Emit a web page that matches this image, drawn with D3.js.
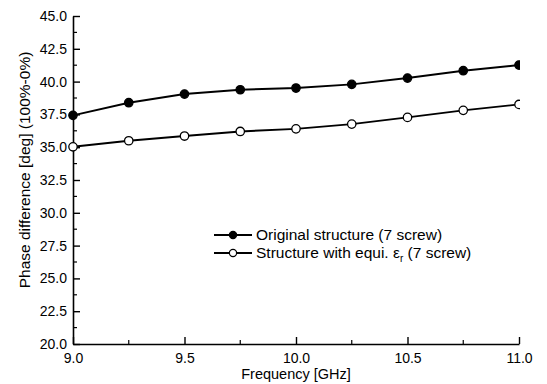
<!DOCTYPE html>
<html>
<head>
<meta charset="utf-8">
<script src="https://cdn.jsdelivr.net/npm/d3@7"></script>
<style>
  html, body { margin: 0; padding: 0; background: #fff; }
  svg { display: block; font-family: "Liberation Sans", Arial, sans-serif; }
</style>
</head>
<body>
<svg id="chart" width="547" height="384"></svg>
<script>
// Frequency sweep (GHz)
const frequency = [9.0, 9.25, 9.5, 9.75, 10.0, 10.25, 10.5, 10.75, 11.0];
// Phase difference (deg), 100% vs 0%
const originalStructure = [37.43, 38.39, 39.05, 39.38, 39.51, 39.79, 40.27, 40.83, 41.26];
const equivalentStructure = [35.03, 35.49, 35.85, 36.20, 36.40, 36.76, 37.27, 37.81, 38.26];
const xTicks = [9.0, 9.5, 10.0, 10.5, 11.0];
const yTicks = [20.0, 22.5, 25.0, 27.5, 30.0, 32.5, 35.0, 37.5, 40.0, 42.5, 45.0];
const xMinor = [9.25, 9.75, 10.25, 10.75];
const yMinor = [21.25, 23.75, 26.25, 28.75, 31.25, 33.75, 36.25, 38.75, 41.25, 43.75];

const svg = d3.select("#chart");
const plotLeft = 73, plotRight = 519, plotTop = 16, plotBottom = 344;

const x = d3.scaleLinear().domain([9.0, 11.0]).range([plotLeft, plotRight]);
const y = d3.scaleLinear().domain([20, 45]).range([plotBottom, plotTop]);

svg.append("defs").append("clipPath").attr("id", "plotClip")
  .append("rect").attr("x", plotLeft - 10).attr("y", plotTop - 10)
  .attr("width", plotRight - plotLeft + 11).attr("height", plotBottom - plotTop + 20);

// Axes: left and bottom only, ticks pointing inward
const yAxis = svg.append("g").attr("transform", `translate(${plotLeft},0)`)
  .call(d3.axisLeft(y).tickValues(yTicks).tickFormat(d3.format(".1f"))
    .tickSizeInner(-7).tickSizeOuter(0).tickPadding(6));
const xAxis = svg.append("g").attr("transform", `translate(0,${plotBottom})`)
  .call(d3.axisBottom(x).tickValues(xTicks).tickFormat(d3.format(".1f"))
    .tickSizeInner(-7).tickSizeOuter(0).tickPadding(9));

[yAxis, xAxis].forEach(g => {
  g.select(".domain").attr("stroke", "#000").attr("stroke-width", 1.6);
  g.selectAll(".tick line").attr("stroke", "#000").attr("stroke-width", 1.4);
  g.selectAll(".tick text").attr("fill", "#000").attr("font-size", 14)
    .attr("font-family", "Liberation Sans, Arial, sans-serif");
});

// Minor ticks
yAxis.selectAll(".minor").data(yMinor).enter().append("line")
  .attr("x1", 0).attr("x2", 4).attr("y1", d => y(d)).attr("y2", d => y(d))
  .attr("stroke", "#000").attr("stroke-width", 1.2);
xAxis.selectAll(".minor").data(xMinor).enter().append("line")
  .attr("x1", d => x(d)).attr("x2", d => x(d)).attr("y1", 0).attr("y2", -4)
  .attr("stroke", "#000").attr("stroke-width", 1.2);

// Axis titles
svg.append("text").attr("x", (plotLeft + plotRight) / 2).attr("y", 379)
  .attr("text-anchor", "middle").attr("font-size", 14.5).attr("fill", "#000")
  .text("Frequency [GHz]");
svg.append("text")
  .attr("transform", `translate(30,170) rotate(-90)`)
  .attr("text-anchor", "middle").attr("font-size", 15.5).attr("fill", "#000")
  .text("Phase difference [deg] (100%-0%)");

// Series
const series = [
  { values: originalStructure, fill: "#000" },
  { values: equivalentStructure, fill: "#fff" }
];
const line = d3.line().x((d, i) => x(frequency[i])).y(d => y(d));
const plot = svg.append("g").attr("clip-path", "url(#plotClip)");

series.forEach(s => {
  plot.append("path").datum(s.values).attr("d", line)
    .attr("fill", "none").attr("stroke", "#000").attr("stroke-width", 1.9);
  plot.selectAll(null).data(s.values).enter().append("circle")
    .attr("cx", (d, i) => x(frequency[i])).attr("cy", d => y(d)).attr("r", 4.2)
    .attr("fill", s.fill).attr("stroke", "#000").attr("stroke-width", 1.3);
});

// Legend
const legendItems = [
  { label: "Original structure (7 screw)", fill: "#000" },
  { label: "Structure with equi. ", sub: true, fill: "#fff" }
];
const lx = 214, lw = 38;
legendItems.forEach((item, i) => {
  const ly = 235 + i * 18;
  svg.append("line").attr("x1", lx).attr("x2", lx + lw).attr("y1", ly).attr("y2", ly)
    .attr("stroke", "#000").attr("stroke-width", 1.8);
  svg.append("circle").attr("cx", lx + lw / 2).attr("cy", ly).attr("r", 3.6)
    .attr("fill", item.fill).attr("stroke", "#000").attr("stroke-width", 1.2);
  const t = svg.append("text").attr("x", lx + lw + 4).attr("y", ly + 5)
    .attr("font-size", 15.5).attr("fill", "#000");
  if (item.sub) {
    t.append("tspan").text("Structure with equi. ε");
    t.append("tspan").attr("font-size", 10).attr("dy", 4).text("r");
    t.append("tspan").attr("dy", -4).text(" (7 screw)");
  } else {
    t.text(item.label);
  }
});
</script>
</body>
</html>
